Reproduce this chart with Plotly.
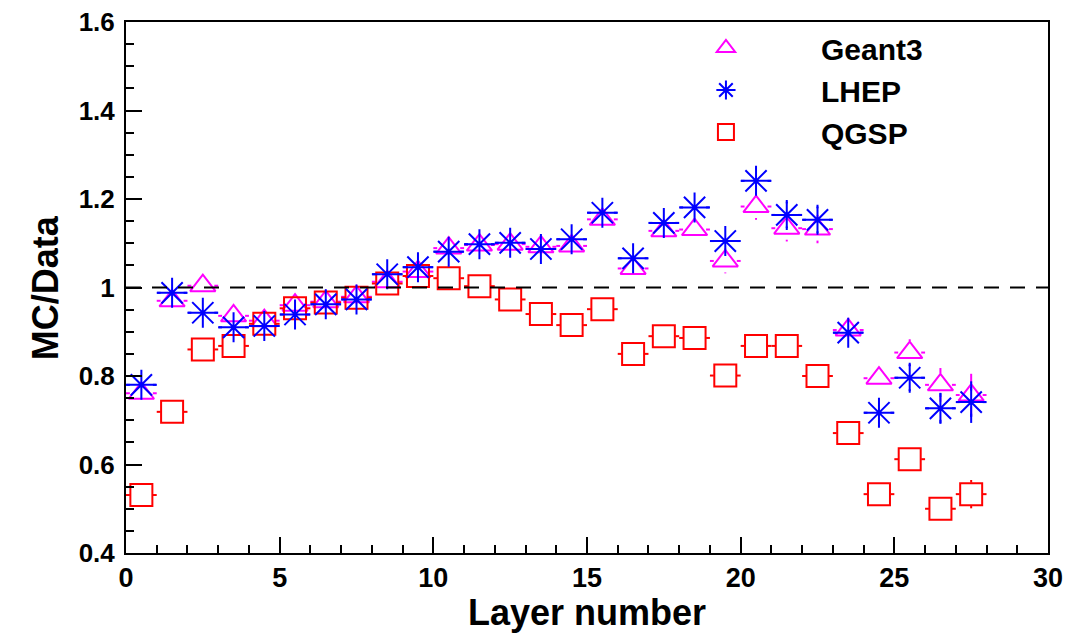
import plotly.graph_objects as go

# ---------------- data ----------------
layers = [0.5, 1.5, 2.5, 3.5, 4.5, 5.5, 6.5, 7.5, 8.5, 9.5, 10.5, 11.5, 12.5, 13.5,
          14.5, 15.5, 16.5, 17.5, 18.5, 19.5, 20.5, 21.5, 22.5, 23.5, 24.5, 25.5, 26.5, 27.5]

geant3 = [0.761, 0.970, 1.004, 0.936, 0.925, 0.960, 0.968, 0.979, 1.013, 1.036, 1.089, 1.096,
          1.098, 1.092, 1.094, 1.154, 1.043, 1.128, 1.131, 1.060, 1.183, 1.134, 1.132, 0.904,
          0.795, 0.853, 0.780, 0.757]
geant3_err = [0.02, 0.01, 0.01, 0.01, 0.01, 0.01, 0.01, 0.01, 0.01, 0.01, 0.015, 0.015, 0.015, 0.015,
              0.015, 0.02, 0.02, 0.025, 0.025, 0.028, 0.03, 0.03, 0.032, 0.02, 0.025, 0.03, 0.038, 0.048]

lhep = [0.780, 0.988, 0.943, 0.910, 0.913, 0.939, 0.962, 0.973, 1.030, 1.046, 1.081, 1.098,
        1.101, 1.087, 1.109, 1.169, 1.066, 1.146, 1.181, 1.105, 1.241, 1.164, 1.153, 0.898,
        0.717, 0.796, 0.727, 0.741]
lhep_err = [0.02, 0.01, 0.01, 0.01, 0.01, 0.01, 0.01, 0.01, 0.01, 0.01, 0.015, 0.015, 0.015, 0.015,
            0.015, 0.02, 0.02, 0.025, 0.025, 0.025, 0.03, 0.03, 0.03, 0.02, 0.025, 0.03, 0.035, 0.047]

qgsp = [0.531, 0.719, 0.860, 0.868, 0.918, 0.953, 0.966, 0.977, 1.009, 1.026, 1.021, 1.003,
        0.973, 0.940, 0.915, 0.951, 0.850, 0.890, 0.886, 0.801, 0.868, 0.868, 0.800, 0.671,
        0.533, 0.612, 0.500, 0.533]
qgsp_err = [0.01, 0.01, 0.01, 0.01, 0.01, 0.01, 0.01, 0.01, 0.01, 0.01, 0.01, 0.01, 0.01, 0.01,
            0.01, 0.01, 0.01, 0.01, 0.01, 0.015, 0.015, 0.015, 0.015, 0.015, 0.02, 0.02, 0.02, 0.032]

bin_half = 0.5
x_ticks = [0, 5, 10, 15, 20, 25, 30]

# ---------------- layout geometry ----------------
PAGE_OFF = 8                      # default body margin of the html page
W, H = 1072 - PAGE_OFF, 634 - PAGE_OFF
ML, MR, MT, MB = 126 - PAGE_OFF, 24, 22 - PAGE_OFF, 81
XR = (0, 30)
YR = (0.4, 1.6)
px_per_x = (W - ML - MR) / (XR[1] - XR[0])
px_per_y = (H - MT - MB) / (YR[1] - YR[0])
GAP_PX = 11.5  # marker half size: error bars start at marker edge

FONT = "Liberation Sans, Arial, sans-serif"


def err_segments(xs, ys, eys):
    gx = GAP_PX / px_per_x
    gy = GAP_PX / px_per_y
    sx, sy = [], []
    for x, y, e in zip(xs, ys, eys):
        sx += [x - bin_half, x - gx, None, x + gx, x + bin_half, None]
        sy += [y, y, None, y, y, None]
        if e > gy:
            sx += [x, x, None, x, x, None]
            sy += [y - e, y - gy, None, y + gy, y + e, None]
    return sx, sy


series = [
    ("Geant3", geant3, geant3_err, "#ff00ff", "triangle-up-open", 22, 1),
    ("QGSP", qgsp, qgsp_err, "#ff0000", "square-open", 22, 3),
    ("LHEP", lhep, lhep_err, "#0000ff", "asterisk-open", 25, 2),
]

fig = go.Figure()
NB = "\u00a0" * 9
for name, ys, es, col, sym, size, rank in series:
    sx, sy = err_segments(layers, ys, es)
    fig.add_trace(go.Scatter(
        x=sx, y=sy, mode="lines", line=dict(color=col, width=2),
        showlegend=False, hoverinfo="skip", legendgroup=name))
    fig.add_trace(go.Scatter(
        x=layers, y=ys, mode="markers", name=NB + name, legendgroup=name,
        legendrank=rank,
        marker=dict(symbol=sym, size=size, color=col, line=dict(color=col, width=2)),
    ))

fig.add_shape(type="line", xref="x", yref="y", x0=XR[0], x1=XR[1], y0=1, y1=1,
              line=dict(color="black", width=2, dash="15px,11px"))

axis_common = dict(
    showline=True, linecolor="black", linewidth=2, mirror=True,
    showgrid=False, zeroline=False, ticks="inside", tickwidth=2,
    tickcolor="black", automargin=False, ticklabeloverflow="allow",
)

fig.update_layout(
    width=W, height=H,
    margin=dict(l=ML, r=MR, t=MT, b=MB),
    paper_bgcolor="white", plot_bgcolor="white",
    font=dict(family=FONT, color="black"),
    xaxis=dict(range=list(XR), tickvals=x_ticks, ticklen=16,
               tickfont=dict(family=FONT, size=27, weight="bold", color="black"),
               minor=dict(dtick=1, ticklen=8, ticks="inside", tickwidth=2, tickcolor="black"),
               ticklabelstandoff=0,
               **axis_common),
    yaxis=dict(range=list(YR), dtick=0.2, tick0=0.4, ticklen=16,
               tickfont=dict(family=FONT, size=26, weight="bold", color="black"),
               minor=dict(dtick=0.05, ticklen=8, ticks="inside", tickwidth=2, tickcolor="black"),
               ticklabelstandoff=4,
               **axis_common),
    legend=dict(x=0.629, y=1.0, xanchor="left", yanchor="top",
                bgcolor="rgba(0,0,0,0)", borderwidth=0,
                font=dict(family=FONT, size=30, weight="bold", color="black"),
                tracegroupgap=0, itemsizing="trace"),
    showlegend=True,
    annotations=[
        dict(text="Layer number", xref="paper", yref="paper", x=0.5, y=-0.112,
             xanchor="center", yanchor="middle", showarrow=False,
             font=dict(family=FONT, size=36, weight="bold", color="black")),
        dict(text="MC/Data", xref="paper", yref="paper", x=-0.087, y=0.5,
             xanchor="center", yanchor="middle", textangle=-90, showarrow=False,
             font=dict(family=FONT, size=36, weight="bold", color="black")),
    ],
)

fig.write_html("out.html")
